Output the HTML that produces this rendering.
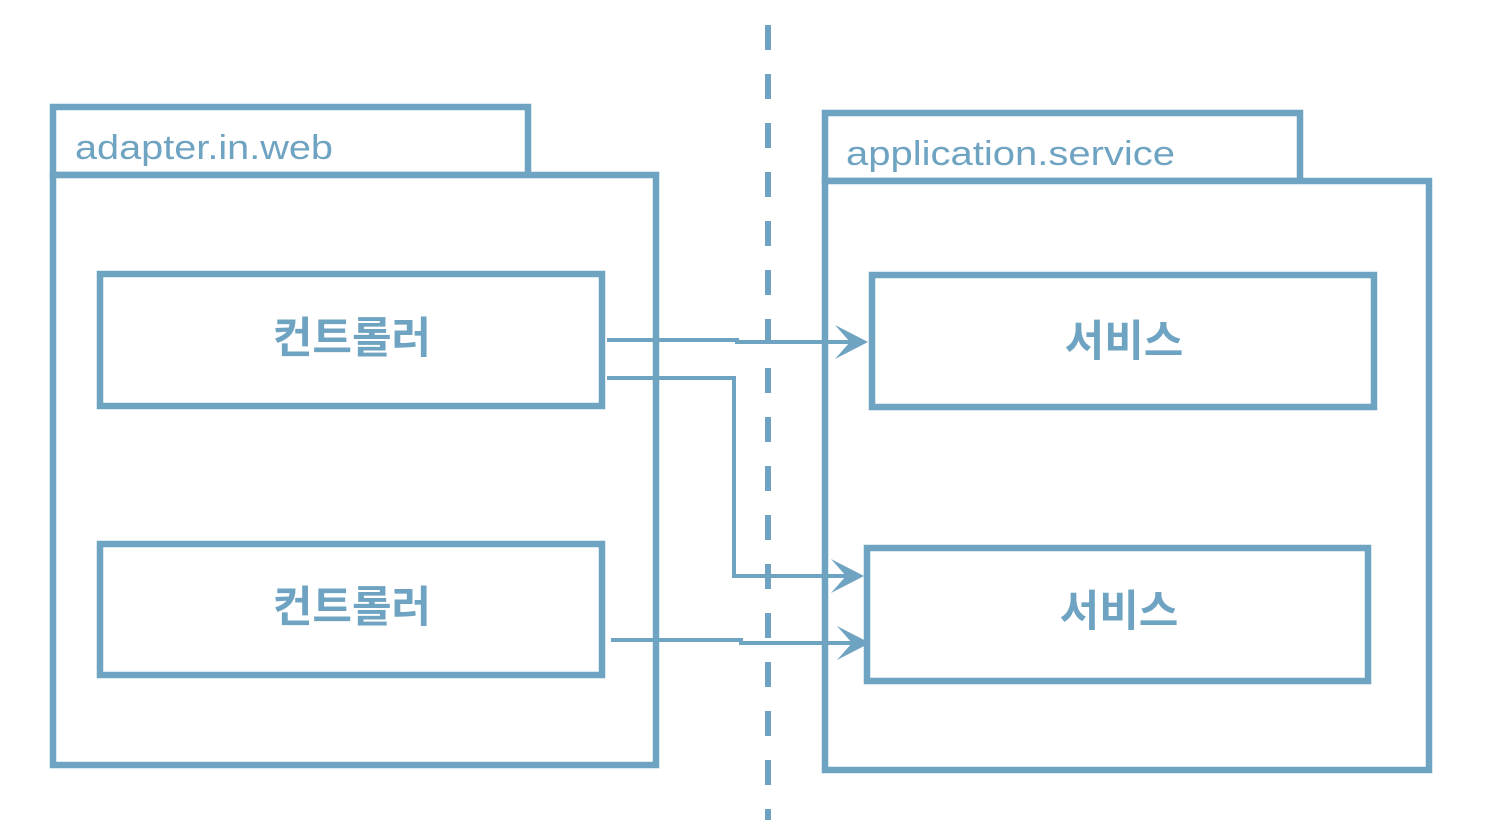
<!DOCTYPE html>
<html><head><meta charset="utf-8"><style>
html,body{margin:0;padding:0;background:#fff;}
svg{display:block}
text{fill:#6fa3c2;}
</style></head><body>
<svg width="1510" height="832" viewBox="0 0 1510 832" xmlns="http://www.w3.org/2000/svg">
<g fill="none" stroke="#6fa3c2" stroke-width="6.5">
<rect x="53" y="107" width="475" height="68"/>
<rect x="53" y="175" width="603" height="590" fill="#fff"/>
<rect x="100" y="274" width="502" height="132"/>
<rect x="100" y="544" width="502" height="131"/>
<rect x="825" y="113" width="475" height="68"/>
<rect x="825" y="181" width="604" height="589" fill="#fff"/>
<rect x="872" y="275" width="502" height="132"/>
<rect x="867" y="548" width="501" height="133"/>
</g>
<line x1="768" y1="25" x2="768" y2="820" stroke="#6fa3c2" stroke-width="6" stroke-dasharray="25,24"/>
<g fill="none" stroke="#6fa3c2" stroke-width="4">
<polyline points="607,340 737,340 737,342 852,342"/>
<polyline points="607,378 734,378 734,576 848,576"/>
<polyline points="611,640 741,640 741,643 854,643"/>
</g>
<g fill="#6fa3c2">
<polygon points="868,342 835,325 850,342 835,359"/>
<polygon points="864,576 831,559 846,576 831,593"/>
<polygon points="870,643 837,626 852,643 837,660"/>
</g>
<g font-family="'Liberation Sans','Noto Sans CJK KR',sans-serif">
<text x="75" y="159" font-size="34" textLength="258" lengthAdjust="spacingAndGlyphs">adapter.in.web</text>
<text x="846" y="165" font-size="34" textLength="329" lengthAdjust="spacingAndGlyphs">application.service</text>
<g font-size="43" font-weight="bold" text-anchor="middle" font-family="'Noto Sans CJK KR','NanumGothic',sans-serif">
<text x="352" y="353">컨트롤러</text>
<text x="352" y="622">컨트롤러</text>
<text x="1124" y="356">서비스</text>
<text x="1119" y="626">서비스</text>
</g>
</g>
</svg>
</body></html>
